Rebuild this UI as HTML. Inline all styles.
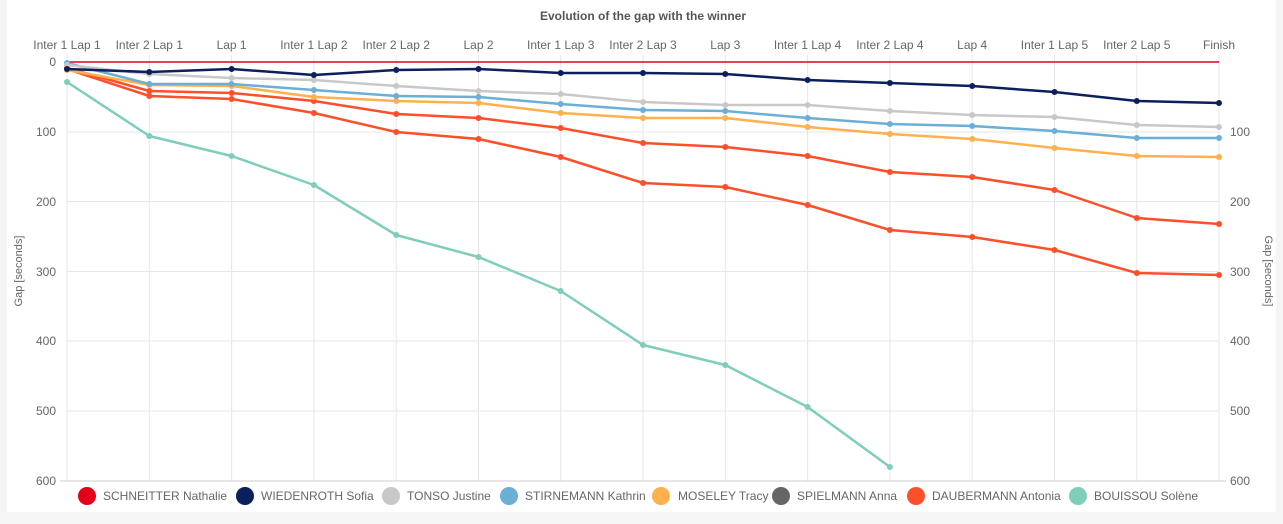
<!DOCTYPE html><html><head><style>
html,body{margin:0;padding:0;background:#f5f5f5;width:1283px;height:524px;overflow:hidden;font-family:"Liberation Sans",sans-serif}
</style></head><body>
<svg width="1283" height="524" xmlns="http://www.w3.org/2000/svg" font-family="Liberation Sans, sans-serif">
<defs>
<marker id="m" viewBox="0 0 6 6" refX="3" refY="3" markerWidth="2.4" markerHeight="2.4" markerUnits="strokeWidth"><circle cx="3" cy="3" r="3" fill="context-stroke"/></marker>
</defs>
<rect x="7" y="0" width="1269" height="512" fill="#fff"/>
<text x="643" y="20" text-anchor="middle" font-size="12" font-weight="bold" fill="#555">Evolution of the gap with the winner</text>
<g stroke="#e6e6e6" stroke-width="1">
<line x1="67" y1="132" x2="1219" y2="132"/><line x1="67" y1="201.5" x2="1219" y2="201.5"/><line x1="67" y1="271.5" x2="1219" y2="271.5"/><line x1="67" y1="341" x2="1219" y2="341"/><line x1="67" y1="411" x2="1219" y2="411"/>
<line x1="67" y1="55" x2="67" y2="481"/><line x1="149.3" y1="55" x2="149.3" y2="481"/><line x1="231.6" y1="55" x2="231.6" y2="481"/><line x1="313.9" y1="55" x2="313.9" y2="481"/><line x1="396.2" y1="55" x2="396.2" y2="481"/><line x1="478.5" y1="55" x2="478.5" y2="481"/><line x1="560.7" y1="55" x2="560.7" y2="481"/><line x1="643" y1="55" x2="643" y2="481"/><line x1="725.3" y1="55" x2="725.3" y2="481"/><line x1="807.6" y1="55" x2="807.6" y2="481"/><line x1="889.9" y1="55" x2="889.9" y2="481"/><line x1="972.2" y1="55" x2="972.2" y2="481"/><line x1="1054.5" y1="55" x2="1054.5" y2="481"/><line x1="1136.8" y1="55" x2="1136.8" y2="481"/><line x1="1219" y1="55" x2="1219" y2="481"/>
</g>
<line x1="60" y1="481" x2="1226" y2="481" stroke="#ccc"/>
<g font-size="12" fill="#666" text-anchor="middle">
<text x="67" y="49">Inter 1 Lap 1</text><text x="149.3" y="49">Inter 2 Lap 1</text><text x="231.6" y="49">Lap 1</text><text x="313.9" y="49">Inter 1 Lap 2</text><text x="396.2" y="49">Inter 2 Lap 2</text><text x="478.5" y="49">Lap 2</text><text x="560.7" y="49">Inter 1 Lap 3</text><text x="643" y="49">Inter 2 Lap 3</text><text x="725.3" y="49">Lap 3</text><text x="807.6" y="49">Inter 1 Lap 4</text><text x="889.9" y="49">Inter 2 Lap 4</text><text x="972.2" y="49">Lap 4</text><text x="1054.5" y="49">Inter 1 Lap 5</text><text x="1136.8" y="49">Inter 2 Lap 5</text><text x="1219" y="49">Finish</text>
</g>
<g font-size="12" fill="#666" text-anchor="end">
<text x="56" y="66">0</text><text x="56" y="136">100</text><text x="56" y="206">200</text><text x="56" y="276">300</text><text x="56" y="345">400</text><text x="56" y="415">500</text><text x="56" y="485">600</text>
</g>
<g font-size="12" fill="#666">
<text x="1230" y="136">100</text><text x="1230" y="206">200</text><text x="1230" y="276">300</text><text x="1230" y="345">400</text><text x="1230" y="415">500</text><text x="1230" y="485">600</text>
</g>
<text transform="translate(22,271) rotate(-90)" font-size="11" fill="#666" text-anchor="middle">Gap [seconds]</text>
<text transform="translate(1265,271) rotate(90)" font-size="11" fill="#666" text-anchor="middle">Gap [seconds]</text>
<polyline fill="none" stroke="#e2001a" stroke-width="1.5" points="67,62 1219,62"/>
<g fill="none" stroke-width="2.5" stroke-linejoin="round" marker-start="url(#m)" marker-mid="url(#m)" marker-end="url(#m)">
<polyline stroke="#7fcdbb" points="67,82 149.3,136 231.6,156 313.9,185 396.2,235 478.5,257 560.7,291 643,345 725.3,365 807.6,407 889.9,467"/>
<polyline stroke="#ff4f2a" points="67,69 149.3,96 231.6,99 313.9,113 396.2,132 478.5,139 560.7,157 643,183 725.3,187 807.6,205 889.9,230 972.2,237 1054.5,250 1136.8,273 1219,275"/>
<polyline stroke="#ff4f2a" points="67,68 149.3,91 231.6,93 313.9,101 396.2,114 478.5,118 560.7,128 643,143 725.3,147 807.6,156 889.9,172 972.2,177 1054.5,190 1136.8,218 1219,224"/>
<polyline stroke="#ffb14e" points="67,70 149.3,85 231.6,86 313.9,97 396.2,101 478.5,103 560.7,113 643,118 725.3,118 807.6,127 889.9,134 972.2,139 1054.5,148 1136.8,156 1219,157"/>
<polyline stroke="#6baed6" points="67,63 149.3,84 231.6,84 313.9,90 396.2,96 478.5,97 560.7,104 643,110 725.3,111 807.6,118 889.9,124 972.2,126 1054.5,131 1136.8,138 1219,138"/>
<polyline stroke="#c8c8c8" points="67,65 149.3,74 231.6,78 313.9,80 396.2,86 478.5,91 560.7,94 643,102 725.3,105 807.6,105 889.9,111 972.2,115 1054.5,117 1136.8,125 1219,127"/>
<polyline stroke="#0b1f5c" points="67,69 149.3,72 231.6,69 313.9,75 396.2,70 478.5,69 560.7,73 643,73 725.3,74 807.6,80 889.9,83 972.2,86 1054.5,92 1136.8,101 1219,103"/>
</g>
<g font-size="12" fill="#666">
<circle cx="87" cy="496" r="9" fill="#e2001a"/><text x="103" y="500">SCHNEITTER Nathalie</text>
<circle cx="245" cy="496" r="9" fill="#0b1f5c"/><text x="261" y="500">WIEDENROTH Sofia</text>
<circle cx="391" cy="496" r="9" fill="#c8c8c8"/><text x="407" y="500">TONSO Justine</text>
<circle cx="509" cy="496" r="9" fill="#6baed6"/><text x="525" y="500">STIRNEMANN Kathrin</text>
<circle cx="661" cy="496" r="9" fill="#ffb14e"/><text x="678" y="500">MOSELEY Tracy</text>
<circle cx="781" cy="496" r="9" fill="#666"/><text x="797" y="500">SPIELMANN Anna</text>
<circle cx="916" cy="496" r="9" fill="#ff4f2a"/><text x="932" y="500">DAUBERMANN Antonia</text>
<circle cx="1078" cy="496" r="9" fill="#7fcdbb"/><text x="1094" y="500">BOUISSOU Solène</text>
</g>
</svg>
</body></html>
